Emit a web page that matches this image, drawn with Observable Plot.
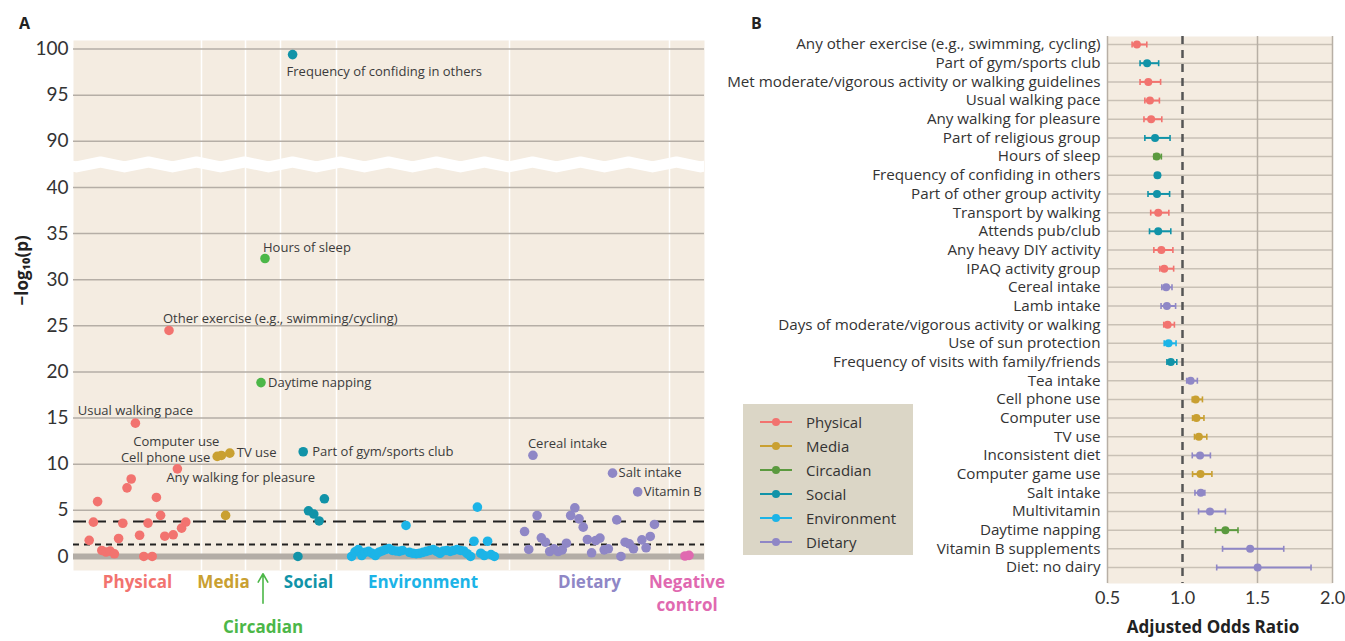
<!DOCTYPE html>
<html>
<head>
<meta charset="utf-8">
<script src="https://cdn.jsdelivr.net/npm/d3@7"></script>
<script src="https://cdn.jsdelivr.net/npm/@observablehq/plot@0.6"></script>
<style>
  body { margin: 0; background: #fff; font-family: "Open Sans", Lato, sans-serif; }
  #wrap { position: relative; width: 1345px; height: 641px; overflow: hidden; }
  #a, #b { position: absolute; top: 0; }
  #a { left: 0; }
  #b { left: 720px; }
  .plab { position: absolute; font-weight: 700; font-size: 16px; color: #222; }
  #legend { position: absolute; left: 743px; top: 404px; width: 170px; height: 151px; background: #dbd6c6; }
  #legend .item { position: absolute; left: 0; height: 20px; width: 170px; }
  #legend .ln { position: absolute; left: 17px; top: 9px; width: 32px; height: 2px; }
  #legend .dt { position: absolute; left: 29px; top: 6px; width: 8px; height: 8px; border-radius: 50%; }
  #legend .tx { position: absolute; left: 63px; top: 0; font-size: 15px; line-height: 20px; color: #333; }
</style>
</head>
<body>
<div id="wrap">
  <div id="a"></div>
  <div id="b"></div>
  <div class="plab" style="left:19px;top:12px;">A</div>
  <div class="plab" style="left:751px;top:12px;">B</div>
  <div id="legend"></div>
</div>
<script>
// ---------- Panel A data ----------
const categories = ["Physical", "Media", "Circadian", "Social", "Environment", "Dietary", "Negative control"];
const categoryColors = ["#f2736f", "#c9a031", "#4cb748", "#1193a8", "#1cb4e7", "#8f87c6", "#e069b0"];
const bandWidths = [128, 44, 35, 56, 173, 160, 35];
const pointSteps = [4.2, 4.2, 4, 5.3, 3.4, 4.19, 4];

const physicalP = [1.75, 3.72, 5.95, 0.65, 0.48, 0.58, 0.29, 1.95, 3.6, 7.44, 8.4, 14.45, 2.3, 0.0, 3.62, 0.0, 6.4, 4.46, 2.2, 24.5, 2.35, 9.5, 3.07, 3.73];
const mediaP = [10.85, 10.95, 4.45, 11.2];
const circadianP = [18.85, 32.3];
const socialP = [99.4, 0.0, 11.35, 4.95, 4.6, 3.85, 6.25];
const environmentP = [0.0, 0.5, 0.75, 0.1, 0.45, 0.55, 0.35, 0.1, 0.45, 0.6, 0.75, 0.85, 0.65, 0.6, 0.55, 0.65, 3.36, 0.45, 0.35, 0.3, 0.35, 0.45, 0.55, 0.65, 0.75, 0.55, 0.35, 0.6, 0.65, 0.55, 0.65, 0.75, 0.65, 0.6, 0.3, 0.0, 1.65, 5.35, 0.35, 0.1, 1.65, 0.2, 0.0];
const dietaryP = [2.7, 0.76, 10.97, 4.44, 2.02, 1.55, 0.54, 0.83, 0.54, 0.72, 1.44, 4.44, 5.27, 4.08, 3.18, 1.84, 0.4, 1.73, 1.99, 0.72, 0.83, 9.03, 3.97, 0.0, 1.55, 1.37, 0.83, 7.0, 1.8, 0.94, 2.17, 3.47];
const negativeP = [0.05, 0.12];
const pValues = [physicalP, mediaP, circadianP, socialP, environmentP, dietaryP, negativeP];

const yTicksRaw = [0, 5, 10, 15, 20, 25, 30, 35, 40, 90, 95, 100];
const bonferroniLine = 3.78;
const nominalLine = 1.3;

const annotations = [
  {cat: "Social", i: 0, text: "Frequency of confiding in others", anchor: "start", dx: -6, dy: 17},
  {cat: "Circadian", i: 1, text: "Hours of sleep", anchor: "start", dx: -2, dy: -11},
  {cat: "Physical", i: 19, text: "Other exercise (e.g., swimming/cycling)", anchor: "start", dx: -6, dy: -12},
  {cat: "Circadian", i: 0, text: "Daytime napping", anchor: "start", dx: 7, dy: 0},
  {cat: "Physical", i: 11, text: "Usual walking pace", anchor: "middle", dx: 0, dy: -12},
  {cat: "Media", i: 1, text: "Computer use", anchor: "end", dx: -2, dy: -14},
  {cat: "Media", i: 0, text: "Cell phone use", anchor: "end", dx: -7, dy: 1},
  {cat: "Media", i: 3, text: "TV use", anchor: "start", dx: 7, dy: 0},
  {cat: "Physical", i: 21, text: "Any walking for pleasure", anchor: "start", dx: -11, dy: 9},
  {cat: "Social", i: 2, text: "Part of gym/sports club", anchor: "start", dx: 9, dy: 0},
  {cat: "Dietary", i: 2, text: "Cereal intake", anchor: "start", dx: -5, dy: -11},
  {cat: "Dietary", i: 21, text: "Salt intake", anchor: "start", dx: 6, dy: 0},
  {cat: "Dietary", i: 27, text: "Vitamin B", anchor: "start", dx: 6, dy: 0}
];

// ---------- Panel B data ----------
const rowNames = ["Any other exercise (e.g., swimming, cycling)", "Part of gym/sports club", "Met moderate/vigorous activity or walking guidelines", "Usual walking pace", "Any walking for pleasure", "Part of religious group", "Hours of sleep", "Frequency of confiding in others", "Part of other group activity", "Transport by walking", "Attends pub/club", "Any heavy DIY activity", "IPAQ activity group", "Cereal intake", "Lamb intake", "Days of moderate/vigorous activity or walking", "Use of sun protection", "Frequency of visits with family/friends", "Tea intake", "Cell phone use", "Computer use", "TV use", "Inconsistent diet", "Computer game use", "Salt intake", "Multivitamin", "Daytime napping", "Vitamin B supplements", "Diet: no dairy"];
const rowCategory = ["Physical", "Social", "Physical", "Physical", "Physical", "Social", "Circadian", "Social", "Social", "Physical", "Social", "Physical", "Physical", "Dietary", "Dietary", "Physical", "Environment", "Social", "Dietary", "Media", "Media", "Media", "Dietary", "Media", "Dietary", "Dietary", "Circadian", "Dietary", "Dietary"];
const rowOR = [0.696, 0.764, 0.772, 0.783, 0.791, 0.817, 0.828, 0.833, 0.83, 0.838, 0.838, 0.859, 0.878, 0.891, 0.896, 0.901, 0.907, 0.922, 1.054, 1.088, 1.093, 1.109, 1.117, 1.12, 1.122, 1.183, 1.286, 1.451, 1.501];
const rowLo = [0.664, 0.717, 0.717, 0.749, 0.743, 0.749, 0.809, 0.82, 0.77, 0.788, 0.78, 0.809, 0.849, 0.862, 0.857, 0.875, 0.878, 0.896, 1.028, 1.065, 1.067, 1.08, 1.065, 1.067, 1.083, 1.107, 1.22, 1.267, 1.228];
const rowHi = [0.762, 0.841, 0.854, 0.846, 0.862, 0.917, 0.859, 0.846, 0.914, 0.909, 0.922, 0.936, 0.941, 0.93, 0.954, 0.946, 0.957, 0.962, 1.099, 1.133, 1.143, 1.162, 1.186, 1.196, 1.149, 1.286, 1.37, 1.675, 1.857];
const legendCategories = ["Physical", "Media", "Circadian", "Social", "Environment", "Dietary"];
const legendColors = ["#f2736f", "#c9a031", "#5b9a3f", "#1193a8", "#1cb4e7", "#8f87c6"];
const xTicksB = [0.5, 1.0, 1.5, 2.0];

// ---------- Panel A ----------
const brk = v => v >= 60 ? v - 45 : v;            // y-axis break: 40 | 90
const unbrk = t => t > 42 ? t + 45 : t;
const bandStart = [0];
bandWidths.forEach((w, i) => bandStart.push(bandStart[i] + w));
const xMax = bandStart[bandStart.length - 1];
const pts = [];
categories.forEach((c, ci) => {
  const arr = pValues[ci];
  const ctr = bandStart[ci] + bandWidths[ci] / 2;
  arr.forEach((p, i) => pts.push({cat: c, i, p, x: ctr + (i - (arr.length - 1) / 2) * pointSteps[ci], y: brk(p)}));
});
const findPt = (c, i) => pts.find(d => d.cat === c && d.i === i);
const yDom = [-1.52, 55.93];
const breakCenter = 42.49;
const zig = d3.range(-1, 29).map(k => ({x: 3 + 24 * k, y: breakCenter + (k % 2 ? 0.27 : -0.27)}));
const catLabels = categories.map((c, ci) => ({cat: c, x: bandStart[ci] + bandWidths[ci] / 2, text: c === "Negative control" ? "Negative\ncontrol" : c}));

const annotMarks = annotations.map(a => {
  const p = findPt(a.cat, a.i);
  return Plot.text([a], {x: () => p.x, y: () => p.y, text: "text", textAnchor: a.anchor, dx: a.dx, dy: a.dy, fontSize: 13, fill: "#3b3b3b"});
});

const plotA = Plot.plot({
  width: 740, height: 641,
  marginLeft: 73, marginRight: 36, marginTop: 40, marginBottom: 71,
  style: {fontFamily: "'Open Sans', sans-serif", background: "transparent", overflow: "visible", color: "#333", maxWidth: "none"},
  x: {domain: [0, xMax], axis: null},
  y: {domain: yDom, axis: null},
  color: {domain: categories, range: categoryColors},
  marks: [
    Plot.frame({fill: "#f4ece1", stroke: null}),
    Plot.ruleX(bandStart.slice(1, -1), {stroke: "white", strokeWidth: 1.5}),
    Plot.ruleY(yTicksRaw.filter(v => v > 0).map(brk), {stroke: "#b5aea6", strokeWidth: 1.5}),
    Plot.ruleY([0], {stroke: "#b3ada6", strokeWidth: 6}),
    Plot.line(zig, {x: "x", y: "y", stroke: "white", strokeWidth: 11, clip: true}),
    Plot.ruleY([bonferroniLine], {stroke: "#222", strokeWidth: 2, strokeDasharray: "13,7"}),
    Plot.ruleY([nominalLine], {stroke: "#222", strokeWidth: 2, strokeDasharray: "6,5"}),
    Plot.dot(pts, {x: "x", y: "y", fill: "cat", r: 4.8}),
    ...annotMarks,
    Plot.axisY({ticks: yTicksRaw.map(brk), tickFormat: t => String(unbrk(t)), tickSize: 0, tickPadding: 5, fontSize: 19, fontFamily: "Lato, sans-serif", label: null}),
    Plot.text(["−log₁₀(p)"], {frameAnchor: "left", rotate: -90, dx: -51, fontSize: 17, fontWeight: 700, fill: "#222"}),
    Plot.text(catLabels.filter(d => d.cat !== "Circadian"), {x: "x", text: "text", fill: "cat", frameAnchor: "bottom", lineAnchor: "top", dy: 1, fontSize: 17, fontWeight: 700, lineHeight: 1.35}),
    Plot.text(catLabels.filter(d => d.cat === "Circadian"), {x: "x", text: "text", fill: "cat", frameAnchor: "bottom", lineAnchor: "middle", dy: 57, fontSize: 17, fontWeight: 700}),
    Plot.arrow(catLabels.filter(d => d.cat === "Circadian"), {x1: "x", x2: "x", y1: () => yDom[0] - 3.55, y2: () => yDom[0] - 0.35, stroke: "cat", strokeWidth: 1.6, headLength: 9})
  ]
});
document.getElementById("a").appendChild(plotA);

// ---------- Panel B ----------
// rows are placed by their index on a linear scale (row 0 at top)
const rows = rowNames.map((n, i) => ({idx: i, name: n, cat: rowCategory[i], or: rowOR[i], lo: rowLo[i], hi: rowHi[i]}));
const rowIdx = rows.map(d => d.idx);
const capSymbol = {draw(ctx, size) { const h = Math.sqrt(size / Math.PI); ctx.moveTo(0, -h); ctx.lineTo(0, h); }};
const plotB = Plot.plot({
  width: 625, height: 641,
  marginLeft: 387, marginRight: 13, marginTop: 36, marginBottom: 58,
  style: {fontFamily: "'Open Sans', sans-serif", background: "transparent", overflow: "visible", color: "#333", maxWidth: "none"},
  x: {domain: [0.5, 2.0], axis: null},
  y: {domain: [rowNames.length - 1 + 0.857, -0.43], axis: null},
  color: {domain: legendCategories, range: legendColors},
  marks: [
    Plot.frame({fill: "#f4ece1", stroke: null}),
    Plot.ruleY(rowIdx, {stroke: "#c9c1b6", strokeWidth: 1.5}),
    Plot.ruleX([0.5, 1.5, 2.0], {stroke: "#b7afa5", strokeWidth: 1.5}),
    Plot.ruleX([1.0], {stroke: "#555", strokeWidth: 2.5, strokeDasharray: "8,6"}),
    Plot.link(rows, {x1: "lo", x2: "hi", y1: "idx", y2: "idx", stroke: "cat", strokeWidth: 2}),
    Plot.dot(rows, {x: "lo", y: "idx", stroke: "cat", symbol: capSymbol, r: 3, strokeWidth: 1.6}),
    Plot.dot(rows, {x: "hi", y: "idx", stroke: "cat", symbol: capSymbol, r: 3, strokeWidth: 1.6}),
    Plot.dot(rows, {x: "or", y: "idx", fill: "cat", r: 4}),
    Plot.axisY({ticks: rowIdx, tickFormat: i => rowNames[i], tickSize: 0, tickPadding: 7, fontSize: 15.2, label: null}),
    Plot.axisX({ticks: xTicksB, tickFormat: d3.format(".1f"), tickSize: 0, tickPadding: 8, fontSize: 18, fontFamily: "Lato, sans-serif", label: null}),
    Plot.text(["Adjusted Odds Ratio"], {frameAnchor: "bottom", dy: 49, dx: -7, fontSize: 17, fontWeight: 700, fill: "#222"})
  ]
});
document.getElementById("b").appendChild(plotB);

// ---------- Legend ----------
const lg = document.getElementById("legend");
legendCategories.forEach((c, i) => {
  const it = document.createElement("div");
  it.className = "item";
  it.style.top = (8 + i * 24) + "px";
  it.innerHTML = `<div class="ln" style="background:${legendColors[i]}"></div><div class="dt" style="background:${legendColors[i]}"></div><div class="tx">${c}</div>`;
  lg.appendChild(it);
});
</script>
</body>
</html>
